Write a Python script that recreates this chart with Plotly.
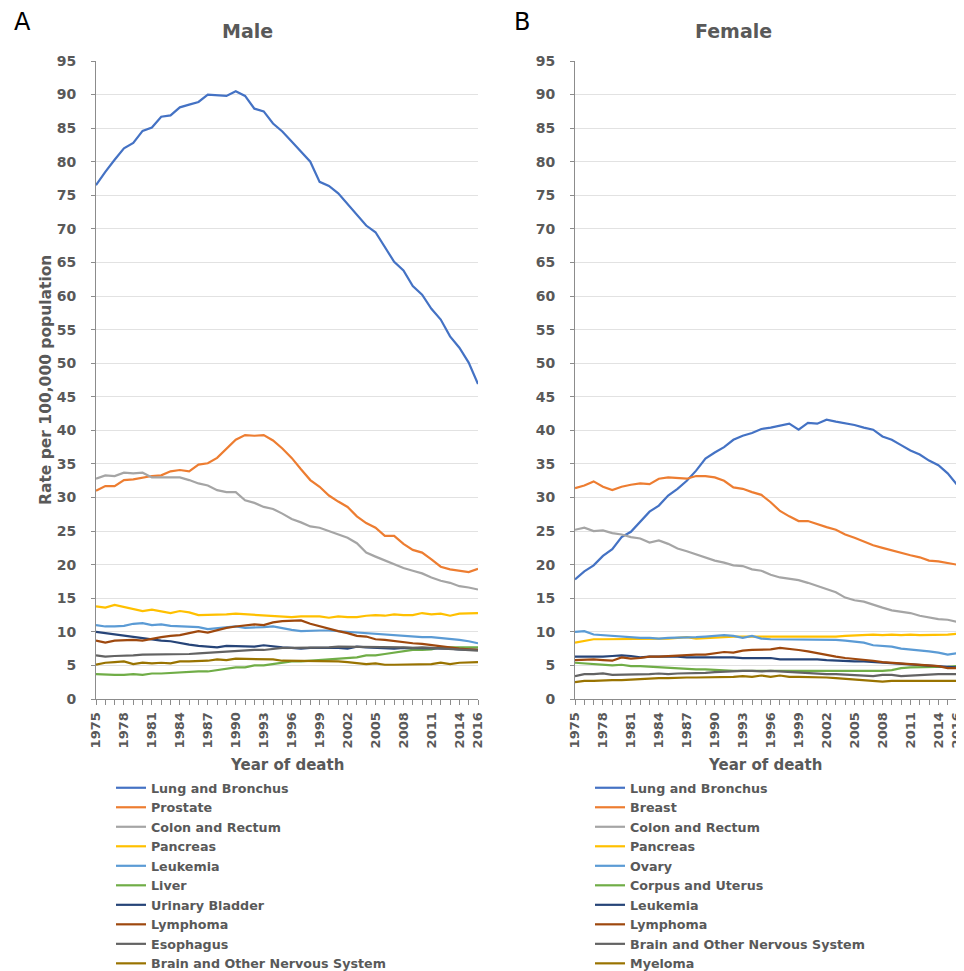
import plotly.graph_objects as go

years = list(range(1975, 2017))

# ---------------- Male ----------------
male_names = ["Lung and Bronchus", "Prostate", "Colon and Rectum", "Pancreas", "Leukemia",
              "Liver", "Urinary Bladder", "Lymphoma", "Esophagus", "Brain and Other Nervous System"]

male_lung = [76.5, 78.5, 80.3, 82.0, 82.8, 84.6, 85.1, 86.7, 86.9, 88.1, 88.5, 88.9, 90.0, 89.9,
             89.8, 90.5, 89.8, 87.9, 87.5, 85.7, 84.5, 83.0, 81.5, 80.0, 77.0, 76.4, 75.3, 73.7,
             72.1, 70.5, 69.5, 67.4, 65.1, 63.8, 61.5, 60.2, 58.1, 56.5, 54.0, 52.3, 50.1, 46.9]
male_prostate = [31.0, 31.7, 31.7, 32.6, 32.7, 33.0, 33.2, 33.3, 33.9, 34.1, 33.9, 34.9, 35.1, 35.9,
                 37.2, 38.6, 39.3, 39.2, 39.3, 38.5, 37.3, 35.9, 34.2, 32.6, 31.6, 30.3, 29.4, 28.6,
                 27.2, 26.2, 25.5, 24.3, 24.3, 23.1, 22.2, 21.8, 20.8, 19.7, 19.3, 19.1, 18.9, 19.4]
male_colon = [32.8, 33.3, 33.2, 33.7, 33.6, 33.7, 33.0, 33.0, 33.1, 33.0, 32.6, 32.1, 31.8, 31.1,
              30.8, 30.8, 29.6, 29.2, 28.6, 28.3, 27.6, 26.8, 26.3, 25.7, 25.5, 25.0, 24.4, 24.0,
              23.2, 21.8, 21.2, 20.6, 20.1, 19.5, 19.1, 18.7, 18.1, 17.6, 17.3, 16.8, 16.6, 16.3]
male_pancreas = [13.8, 13.6, 14.0, 13.7, 13.4, 13.1, 13.3, 13.1, 12.8, 13.1, 12.9, 12.5, 12.5, 12.6,
                 12.6, 12.7, 12.6, 12.5, 12.4, 12.4, 12.2, 12.2, 12.3, 12.3, 12.3, 12.1, 12.3, 12.2,
                 12.2, 12.4, 12.5, 12.4, 12.6, 12.5, 12.5, 12.8, 12.6, 12.7, 12.4, 12.7, 12.7, 12.8]
male_leukemia = [11.0, 10.8, 10.8, 10.9, 11.2, 11.3, 11.0, 11.1, 10.9, 10.8, 10.8, 10.7, 10.4, 10.5,
                 10.7, 10.8, 10.6, 10.6, 10.7, 10.8, 10.5, 10.3, 10.1, 10.2, 10.2, 10.2, 10.1, 10.0,
                 9.9, 9.8, 9.7, 9.5, 9.4, 9.4, 9.3, 9.2, 9.2, 9.1, 8.9, 8.8, 8.6, 8.3]
male_liver = [3.7, 3.6, 3.6, 3.6, 3.7, 3.6, 3.8, 3.8, 3.9, 3.9, 4.0, 4.1, 4.1, 4.3,
              4.5, 4.7, 4.7, 5.0, 5.0, 5.2, 5.5, 5.6, 5.6, 5.7, 5.7, 5.8, 6.0, 6.1,
              6.2, 6.5, 6.5, 6.7, 6.9, 7.2, 7.3, 7.3, 7.4, 7.7, 7.7, 7.7, 7.7, 7.7]
male_bladder = [10.0, 9.8, 9.6, 9.4, 9.3, 9.1, 8.9, 8.7, 8.6, 8.3, 8.1, 7.9, 7.8, 7.7,
                7.9, 7.9, 7.8, 7.8, 8.0, 7.8, 7.7, 7.6, 7.5, 7.6, 7.6, 7.7, 7.6, 7.5,
                7.8, 7.7, 7.6, 7.6, 7.5, 7.6, 7.6, 7.6, 7.6, 7.5, 7.5, 7.4, 7.4, 7.3]
male_lymphoma = [8.7, 8.4, 8.7, 8.8, 8.8, 8.7, 9.0, 9.2, 9.4, 9.5, 9.8, 10.1, 9.9, 10.3,
                 10.6, 10.8, 10.9, 11.1, 11.0, 11.4, 11.6, 11.7, 11.7, 11.2, 10.8, 10.4, 10.1, 9.8,
                 9.4, 9.3, 8.9, 8.8, 8.6, 8.4, 8.3, 8.2, 8.0, 7.8, 7.7, 7.5, 7.4, 7.3]
male_esophagus = [6.5, 6.3, 6.4, 6.4, 6.5, 6.6, 6.6, 6.6, 6.6, 6.7, 6.7, 6.8, 6.9, 7.0,
                  7.1, 7.2, 7.2, 7.3, 7.3, 7.5, 7.6, 7.6, 7.6, 7.6, 7.7, 7.7, 7.8, 7.8,
                  7.7, 7.8, 7.8, 7.7, 7.7, 7.7, 7.6, 7.7, 7.6, 7.5, 7.4, 7.3, 7.3, 7.2]
male_brain = [5.1, 5.4, 5.5, 5.6, 5.2, 5.4, 5.3, 5.4, 5.3, 5.6, 5.6, 5.6, 5.7, 5.9,
              5.8, 6.0, 6.0, 5.9, 5.9, 5.9, 5.7, 5.7, 5.7, 5.7, 5.7, 5.6, 5.6, 5.5,
              5.4, 5.2, 5.3, 5.1, 5.1, 5.1, 5.2, 5.1, 5.2, 5.4, 5.2, 5.4, 5.4, 5.5]

# ---------------- Female ----------------
female_names = ["Lung and Bronchus", "Breast", "Colon and Rectum", "Pancreas", "Ovary",
                "Corpus and Uterus", "Leukemia", "Lymphoma", "Brain and Other Nervous System", "Myeloma"]

female_lung = [17.8, 19.0, 19.9, 21.3, 22.3, 24.1, 24.9, 26.4, 27.9, 28.8, 30.3, 31.3, 32.5, 34.0,
               35.8, 36.7, 37.5, 38.6, 39.2, 39.6, 40.2, 40.4, 40.7, 41.0, 40.1, 41.1, 41.0, 41.6,
               41.3, 41.1, 40.8, 40.4, 40.1, 39.1, 38.6, 37.8, 37.0, 36.4, 35.5, 34.8, 33.6, 31.9]
female_breast = [31.4, 31.8, 32.4, 31.6, 31.1, 31.6, 31.9, 32.1, 32.0, 32.8, 33.0, 32.9, 32.8, 33.2,
                 33.2, 33.0, 32.5, 31.5, 31.3, 30.8, 30.4, 29.3, 28.0, 27.2, 26.5, 26.5, 26.0, 25.6,
                 25.2, 24.5, 24.0, 23.4, 22.9, 22.5, 22.1, 21.7, 21.4, 21.1, 20.6, 20.5, 20.2, 20.0]
female_colon = [25.2, 25.5, 25.0, 25.1, 24.7, 24.5, 24.1, 23.9, 23.3, 23.6, 23.1, 22.4, 22.0, 21.5,
                21.1, 20.6, 20.3, 19.9, 19.8, 19.3, 19.1, 18.5, 18.1, 17.9, 17.7, 17.3, 16.8, 16.4,
                15.9, 15.1, 14.7, 14.5, 14.0, 13.6, 13.2, 13.0, 12.8, 12.4, 12.1, 11.9, 11.8, 11.5]
female_pancreas = [8.4, 8.7, 8.9, 8.9, 8.9, 8.9, 8.9, 8.9, 9.0, 9.0, 9.0, 9.1, 9.2, 9.0,
                   9.1, 9.2, 9.3, 9.3, 9.3, 9.3, 9.3, 9.2, 9.2, 9.3, 9.3, 9.3, 9.3, 9.3,
                   9.3, 9.4, 9.5, 9.5, 9.6, 9.5, 9.6, 9.5, 9.6, 9.5, 9.5, 9.6, 9.6, 9.7]
female_ovary = [10.0, 10.1, 9.6, 9.5, 9.3, 9.2, 9.2, 9.1, 9.1, 9.0, 9.1, 9.1, 9.2, 9.2,
                9.3, 9.4, 9.5, 9.4, 9.1, 9.4, 9.0, 8.9, 8.9, 8.8, 8.9, 8.9, 8.9, 8.9,
                8.8, 8.7, 8.6, 8.4, 8.0, 7.9, 7.8, 7.5, 7.4, 7.3, 7.1, 6.9, 6.6, 6.8]
female_corpus = [5.4, 5.3, 5.2, 5.1, 5.0, 5.1, 4.9, 4.9, 4.8, 4.7, 4.7, 4.6, 4.5, 4.4,
                 4.4, 4.3, 4.3, 4.2, 4.2, 4.2, 4.2, 4.2, 4.1, 4.1, 4.1, 4.2, 4.2, 4.2,
                 4.2, 4.1, 4.2, 4.2, 4.2, 4.2, 4.3, 4.6, 4.7, 4.7, 4.7, 4.8, 4.8, 4.9]
female_leukemia = [6.3, 6.3, 6.2, 6.3, 6.4, 6.5, 6.4, 6.2, 6.3, 6.3, 6.4, 6.3, 6.2, 6.2,
                   6.3, 6.3, 6.3, 6.2, 6.1, 6.1, 6.0, 6.1, 5.9, 5.9, 6.0, 6.0, 5.9, 5.8,
                   5.7, 5.6, 5.6, 5.6, 5.5, 5.4, 5.4, 5.3, 5.2, 5.1, 5.0, 4.9, 4.8, 4.7]
female_lymphoma = [5.8, 5.9, 5.9, 5.8, 5.7, 6.2, 6.0, 6.1, 6.3, 6.3, 6.4, 6.4, 6.5, 6.6,
                   6.6, 6.8, 7.0, 6.9, 7.2, 7.3, 7.3, 7.4, 7.6, 7.5, 7.3, 7.1, 6.8, 6.5,
                   6.3, 6.1, 6.0, 5.9, 5.7, 5.5, 5.4, 5.3, 5.2, 5.1, 5.0, 4.9, 4.6, 4.6]
female_brain = [3.4, 3.7, 3.7, 3.8, 3.6, 3.6, 3.6, 3.7, 3.7, 3.8, 3.7, 3.8, 3.8, 3.9,
                3.9, 4.0, 4.1, 4.1, 4.2, 4.2, 4.1, 4.2, 4.1, 4.1, 4.0, 3.9, 3.8, 3.7,
                3.7, 3.6, 3.6, 3.4, 3.4, 3.6, 3.6, 3.4, 3.5, 3.6, 3.7, 3.7, 3.7, 3.7]
female_myeloma = [2.5, 2.7, 2.7, 2.8, 2.8, 2.8, 2.9, 3.0, 3.1, 3.1, 3.1, 3.2, 3.2, 3.2,
                  3.2, 3.3, 3.3, 3.3, 3.4, 3.3, 3.5, 3.3, 3.5, 3.3, 3.3, 3.3, 3.2, 3.2,
                  3.1, 3.0, 2.9, 2.7, 2.6, 2.6, 2.7, 2.7, 2.7, 2.8, 2.7, 2.7, 2.7, 2.7]

colors = ["#4472C4", "#ED7D31", "#A5A5A5", "#FFC000", "#5B9BD5",
          "#70AD47", "#264478", "#9E480E", "#636363", "#997300"]

male_series = [male_lung, male_prostate, male_colon, male_pancreas, male_leukemia,
               male_liver, male_bladder, male_lymphoma, male_esophagus, male_brain]
female_series = [female_lung, female_breast, female_colon, female_pancreas, female_ovary,
                 female_corpus, female_leukemia, female_lymphoma, female_brain, female_myeloma]

FONT = "DejaVu Sans"
GREY = "#595959"

# page has an 8px body margin; work in page pixels and convert
OFF = 8
W, H = 964, 971


def px(x):
    return (x - OFF) / W


def py(y):
    return 1 - (y - OFF) / H


fig = go.Figure()
for name, vals, c in zip(male_names, male_series, colors):
    fig.add_trace(go.Scatter(x=years, y=vals, name=name, mode="lines",
                             line=dict(color=c, width=2.2), xaxis="x", yaxis="y", legend="legend"))
for name, vals, c in zip(female_names, female_series, colors):
    fig.add_trace(go.Scatter(x=years, y=vals, name=name, mode="lines",
                             line=dict(color=c, width=2.2), xaxis="x2", yaxis="y2", legend="legend2"))

tickvals = years
ticktext = [str(y) if ((y - 1975) % 3 == 0 or y == 2016) else "" for y in years]

ydom = [py(699), py(61)]

xcommon = dict(range=[1975, 2016], tickvals=tickvals, ticktext=ticktext, tickangle=-90,
               ticks="outside", ticklen=5, tickcolor="#8c8c8c", showline=True, linecolor="#8c8c8c",
               linewidth=1, showgrid=False, zeroline=False, ticklabeloverflow="allow",
               ticklabelstandoff=2,
               tickfont=dict(family=FONT, size=13, color=GREY, weight="bold"), automargin=False)
ycommon = dict(range=[0, 95], dtick=5, tick0=0, ticks="outside", ticklen=4, tickcolor="#8c8c8c",
               showline=True, linecolor="#8c8c8c", linewidth=1, showgrid=True, gridcolor="#e2e2e2",
               gridwidth=1, zeroline=False, ticklabelstandoff=12,
               tickfont=dict(family=FONT, size=14, color=GREY, weight="bold"), automargin=False)

legcommon = dict(font=dict(family=FONT, size=12.7, color=GREY, weight="bold"), bgcolor="rgba(0,0,0,0)",
                 xanchor="left", yanchor="top", tracegroupgap=0, itemwidth=30)

fig.update_layout(
    width=W, height=H, margin=dict(l=0, r=0, t=0, b=0),
    paper_bgcolor="white", plot_bgcolor="white",
    xaxis=dict(domain=[px(96), px(478)], anchor="y", **xcommon),
    yaxis=dict(domain=ydom, anchor="x", **ycommon),
    xaxis2=dict(domain=[px(575), px(957)], anchor="y2", **xcommon),
    yaxis2=dict(domain=ydom, anchor="x2", **ycommon),
    legend=dict(x=px(111), y=py(773), **legcommon),
    legend2=dict(x=px(590), y=py(773), **legcommon),
    showlegend=True,
)

annots = [
    dict(text="A", x=px(22), y=py(22), font=dict(family=FONT, size=24, color="black")),
    dict(text="B", x=px(522), y=py(22), font=dict(family=FONT, size=24, color="black")),
    dict(text="<b>Male</b>", x=px(247), y=py(31), font=dict(family=FONT, size=19, color=GREY)),
    dict(text="<b>Female</b>", x=px(733), y=py(31), font=dict(family=FONT, size=19, color=GREY)),
    dict(text="<b>Year of death</b>", x=px(287), y=py(765), font=dict(family=FONT, size=15, color=GREY)),
    dict(text="<b>Year of death</b>", x=px(765), y=py(765), font=dict(family=FONT, size=15, color=GREY)),
    dict(text="<b>Rate per 100,000 population</b>", x=px(46), y=py(380), textangle=-90,
         font=dict(family=FONT, size=15.5, color=GREY)),
]
for a in annots:
    fig.add_annotation(xref="paper", yref="paper", showarrow=False, xanchor="center", yanchor="middle", **a)

# hide page scrollbars (the figure slightly overflows the window because of the body margin)
fig.write_html("out.html",
               post_script="document.documentElement.style.overflow='hidden';"
                           "document.body.style.overflow='hidden';")
